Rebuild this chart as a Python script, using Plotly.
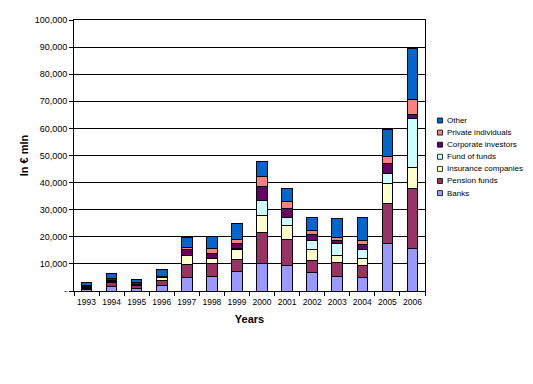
import plotly.graph_objects as go

years = [str(y) for y in range(1993, 2007)]
series_names = ["Banks", "Pension funds", "Insurance companies", "Fund of funds",
                "Corporate investors", "Private individuals", "Other"]
series_colors = ["#9999FF", "#993366", "#FFFFCC", "#CCFFFF", "#660066", "#FF8080", "#0066CC"]

banks = [500, 1800, 800, 2100, 5000, 5400, 7300, 10200, 9500, 6900, 5400, 5100, 17600, 15800]
pension_funds = [600, 1400, 1300, 1700, 4800, 4800, 4400, 11300, 9600, 4300, 5200, 4400, 14800, 22100]
insurance_companies = [200, 400, 100, 1000, 3200, 1700, 3700, 6400, 5100, 4200, 2600, 2600, 7300, 7700]
fund_of_funds = [100, 200, 100, 200, 200, 200, 200, 5600, 2900, 3300, 4400, 3300, 3700, 18100]
corporate_investors = [400, 800, 800, 300, 2300, 1800, 2100, 5100, 3400, 2200, 1200, 1600, 3700, 1600]
private_individuals = [100, 100, 0, 200, 600, 1900, 1400, 3700, 2600, 1500, 1000, 1800, 2500, 5400]
other = [1300, 1800, 1300, 2500, 3700, 4400, 5900, 5600, 4800, 4800, 7000, 8400, 10100, 18900]

y_tickvals = [0, 10000, 20000, 30000, 40000, 50000, 60000, 70000, 80000, 90000, 100000]
y_ticktext = ["-", "10,000", "20,000", "30,000", "40,000", "50,000", "60,000",
              "70,000", "80,000", "90,000", "100,000"]

all_series = [banks, pension_funds, insurance_companies, fund_of_funds,
              corporate_investors, private_individuals, other]

FONT = "Liberation Sans"

# page body has an 8px default margin; work in figure coordinates
OFF = 8
W, H = 533 - OFF, 384 - OFF
plot_l, plot_r, plot_t, plot_b = 74 - OFF, 425 - OFF, 20 - OFF, 291 - OFF
ml, mr, mt, mb = plot_l, W - plot_r, plot_t, H - plot_b
pw, ph = plot_r - plot_l, plot_b - plot_t

fig = go.Figure()
for name, color, vals in zip(series_names, series_colors, all_series):
    fig.add_trace(go.Bar(
        x=years, y=vals, name=name,
        marker=dict(color=color, line=dict(color="black", width=1)),
        showlegend=False,
    ))

# custom compact legend (Other at top)
legend_top_px = 120.5 - OFF
step_px = 12.1
for i, (name, color) in enumerate(reversed(list(zip(series_names, series_colors)))):
    cy = legend_top_px + i * step_px
    yp = (plot_b - cy) / ph
    x0 = (437.5 - OFF - plot_l) / pw
    x1 = (442.5 - OFF - plot_l) / pw
    hh = 2.5 / ph
    fig.add_shape(type="rect", xref="paper", yref="paper",
                  x0=x0, x1=x1, y0=yp - hh, y1=yp + hh,
                  fillcolor=color, line=dict(color="black", width=0.8))
    fig.add_annotation(xref="paper", yref="paper", x=(444.5 - OFF - plot_l) / pw, y=yp,
                       text=name, showarrow=False, xanchor="left", yanchor="middle",
                       font=dict(family=FONT, size=8, color="black"))

fig.update_layout(
    width=W, height=H,
    margin=dict(l=ml, r=mr, t=mt, b=mb, autoexpand=False),
    barmode="stack", bargap=0.58,
    paper_bgcolor="white", plot_bgcolor="white",
    font=dict(family=FONT, size=8, color="black"),
    showlegend=False,
    xaxis=dict(
        type="category",
        showline=True, linecolor="black", linewidth=1, mirror=True,
        ticks="outside", ticklen=4, tickcolor="black", tickson="boundaries",
        showgrid=False, tickangle=0, ticklabelstandoff=3,
        tickfont=dict(family=FONT, size=8.5),
        title=dict(text="<b>Years</b>", font=dict(family=FONT, size=11), standoff=9),
    ),
    yaxis=dict(
        range=[0, 100000],
        tickvals=y_tickvals, ticktext=y_ticktext,
        showline=True, linecolor="black", linewidth=1, mirror=True,
        ticks="outside", ticklen=4, tickcolor="black",
        showgrid=True, gridcolor="black", gridwidth=1,
        zeroline=False,
        tickfont=dict(family=FONT, size=9),
        title=dict(text="<b>In € mln</b>", font=dict(family=FONT, size=11), standoff=3),
    ),
)

fig.write_html("out.html")
